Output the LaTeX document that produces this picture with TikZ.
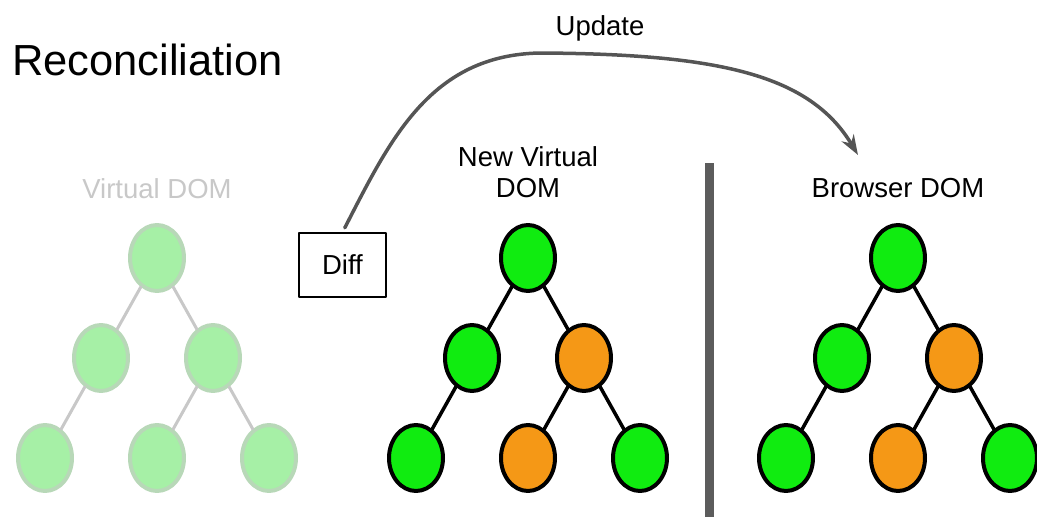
\documentclass[tikz,border=0pt]{standalone}
\usepackage{fontspec}
\setmainfont{Liberation Sans}
\usetikzlibrary{shapes.geometric,arrows.meta}
\definecolor{oldfill}{RGB}{166,240,166}
\definecolor{olddraw}{RGB}{184,216,184}
\definecolor{oldedge}{RGB}{200,200,200}
\definecolor{oldtext}{RGB}{200,200,200}
\definecolor{keepfill}{RGB}{16,236,16}
\definecolor{changefill}{RGB}{245,152,22}
\definecolor{arrowgray}{RGB}{85,85,85}
\definecolor{bargray}{RGB}{92,92,92}
\tikzset{
  domnode/.style={ellipse, minimum width=54pt, minimum height=66pt, line width=4pt, inner sep=0pt},
  oldnode/.style={domnode, fill=oldfill, draw=olddraw},
  keepnode/.style={domnode, fill=keepfill, draw=black},
  changenode/.style={domnode, fill=changefill, draw=black},
  domtitle/.style={anchor=base, inner sep=0pt, font=\fontsize{27.5}{31}\selectfont},
}
\begin{document}
\begin{tikzpicture}[x=1pt, y=-1pt, >={Stealth[length=20pt,width=14pt]}, line join=round, line cap=round]
            \def\dx{56} \def\dy{100}
            \useasboundingbox (0,0) rectangle (1037,517);
            \clip (0,0) rectangle (1037,517);
            \node[anchor=base west, inner sep=0pt, font=\fontsize{43.5}{50}\selectfont] (title) at (12,75) {Reconciliation};
            % old virtual DOM
            \node[domtitle, text=oldtext] (vdom) at (157,198) {Virtual DOM};
            \node[oldnode] (o1) at (157,258) {};
            \node[oldnode] (o2) at (157-\dx,258+\dy) {};
            \node[oldnode] (o3) at (157+\dx,258+\dy) {};
            \node[oldnode] (o4) at (157-2*\dx,258+2*\dy) {};
            \node[oldnode] (o5) at (157,258+2*\dy) {};
            \node[oldnode] (o6) at (157+2*\dx,258+2*\dy) {};
            \draw[oldedge, line width=3pt] (o1)--(o2) (o1)--(o3) (o2)--(o4) (o3)--(o5) (o3)--(o6);
            % new virtual DOM
            \node[domtitle, align=center, anchor=south] (ndom) at (528,198) {New Virtual\\DOM};
            \node[keepnode] (n1) at (528,258) {};
            \node[keepnode] (n2) at (528-\dx,258+\dy) {};
            \node[changenode] (n3) at (528+\dx,258+\dy) {};
            \node[keepnode] (n4) at (528-2*\dx,258+2*\dy) {};
            \node[changenode] (n5) at (528,258+2*\dy) {};
            \node[keepnode] (n6) at (528+2*\dx,258+2*\dy) {};
            \draw[line width=3.5pt] (n1)--(n2) (n1)--(n3) (n2)--(n4) (n3)--(n5) (n3)--(n6);
            % browser DOM
            \node[domtitle] (bdom) at (898,197) {Browser DOM};
            \node[keepnode] (b1) at (898,258) {};
            \node[keepnode] (b2) at (898-\dx,258+\dy) {};
            \node[changenode] (b3) at (898+\dx,258+\dy) {};
            \node[keepnode] (b4) at (898-2*\dx,258+2*\dy) {};
            \node[changenode] (b5) at (898,258+2*\dy) {};
            \node[keepnode] (b6) at (898+2*\dx,258+2*\dy) {};
            \draw[line width=3.5pt] (b1)--(b2) (b1)--(b3) (b2)--(b4) (b3)--(b5) (b3)--(b6);
            \draw[bargray, line width=9pt, line cap=butt] (709.5,163) -- (709.5,517);
            % diff and update
            \node[draw, line width=1.5pt, minimum width=87pt, minimum height=64pt, inner sep=0pt, font=\fontsize{27.5}{31}\selectfont] (diff) at (342.5,265) {Diff};
            \coordinate (updtip) at (858,155);
            \draw[->, arrowgray, line width=3.5pt, shorten <=5pt] (diff.north) .. controls (390,140) and (430,55) .. (540,53) .. controls (720,54) and (810,75) .. (updtip);
            \node[domtitle] (upd) at (600,35) {Update};
        \end{tikzpicture}
\end{document}
